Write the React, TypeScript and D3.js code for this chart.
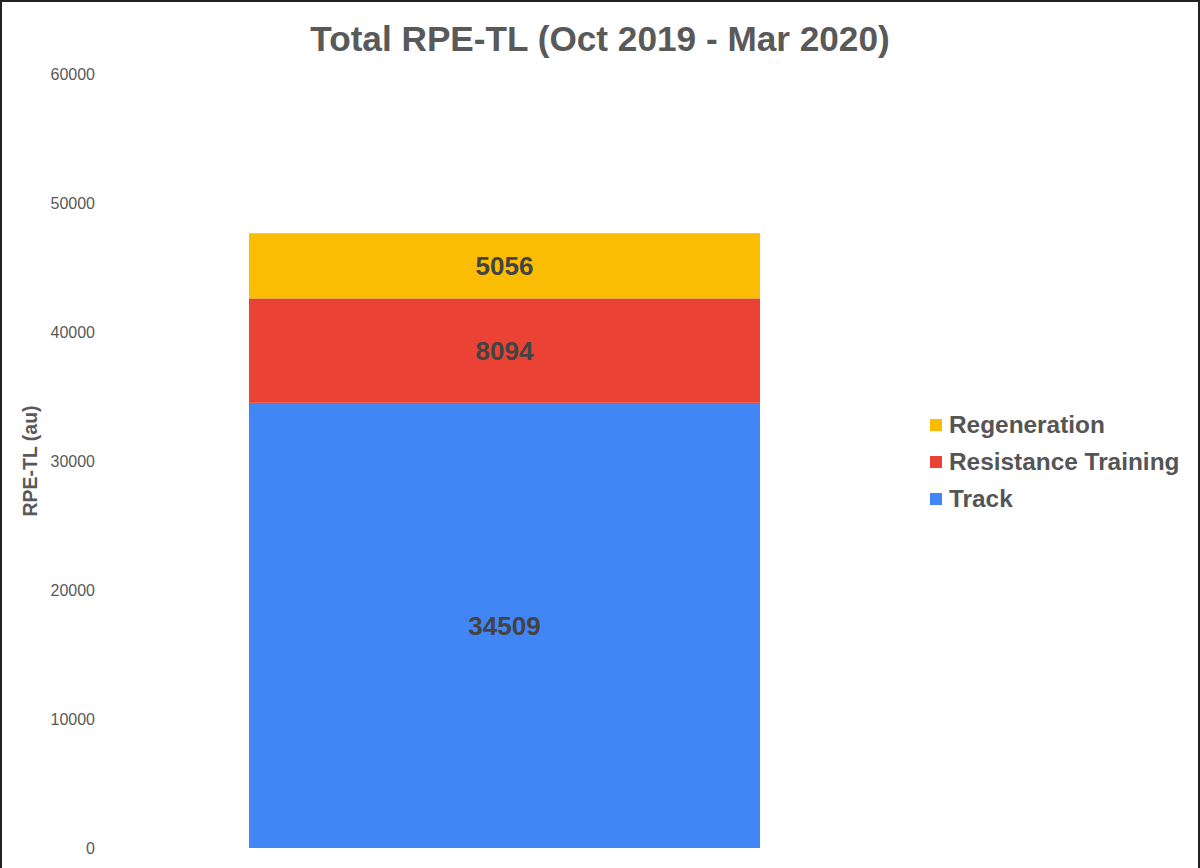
import { useEffect } from "react";
import { scaleLinear, scaleBand, stack } from "d3";

const categories = ["Total"];
const seriesNames = ["Track", "Resistance Training", "Regeneration"];
const trackValues = [34509];
const resistanceValues = [8094];
const regenerationValues = [5056];
const yTicks = [0, 10000, 20000, 30000, 40000, 50000, 60000];
const legendOrder = ["Regeneration", "Resistance Training", "Track"];

const colors: Record<string, string> = {
  Track: "#4285F4",
  "Resistance Training": "#EA4335",
  Regeneration: "#FBBC04",
};

const width = 1200;
const height = 868;
const font = "'Liberation Sans', Arial, sans-serif";

export default function App() {
  useEffect(() => {
    document.body.style.margin = "0";
  }, []);

  const rows = categories.map((c, i) => ({
    category: c,
    Track: trackValues[i],
    "Resistance Training": resistanceValues[i],
    Regeneration: regenerationValues[i],
  }));

  const stacked = stack<any>().keys(seriesNames)(rows);

  const y = scaleLinear().domain([0, 60000]).range([848, 74]);
  const x = scaleBand().domain(categories).range([109, 900]).padding(0.215);

  return (
    <svg width={width} height={height} style={{ display: "block" }}>
      <rect x={0} y={0} width={width} height={height} fill="#fff" />
      <rect
        x={1}
        y={1}
        width={width - 2}
        height={height + 4}
        fill="none"
        stroke="#222"
        strokeWidth={2}
      />
      <text
        x={600}
        y={51}
        textAnchor="middle"
        fontFamily={font}
        fontWeight="bold"
        fontSize={35.2}
        fill="#595959"
      >
        Total RPE-TL (Oct 2019 - Mar 2020)
      </text>

      {yTicks.map((t) => (
        <text
          key={t}
          x={95}
          y={y(t) + 6}
          textAnchor="end"
          fontFamily={font}
          fontSize={16}
          fill="#595959"
        >
          {t}
        </text>
      ))}

      <text
        transform={`translate(37,461) rotate(-90)`}
        textAnchor="middle"
        fontFamily={font}
        fontWeight="bold"
        fontSize={19.5}
        fill="#595959"
      >
        RPE-TL (au)
      </text>

      {stacked.map((s) =>
        s.map((d, i) => (
          <g key={s.key + i}>
            <rect
              x={x(d.data.category)}
              y={y(d[1])}
              width={x.bandwidth()}
              height={y(d[0]) - y(d[1])}
              fill={colors[s.key]}
            />
            <text
              x={(x(d.data.category) ?? 0) + x.bandwidth() / 2}
              y={(y(d[0]) + y(d[1])) / 2}
              dy="0.36em"
              textAnchor="middle"
              fontFamily={font}
              fontWeight="bold"
              fontSize={26}
              fill="#434343"
            >
              {d[1] - d[0]}
            </text>
          </g>
        ))
      )}

      {legendOrder.map((name, i) => (
        <g key={name} transform={`translate(930,${433 + i * 37})`}>
          <rect x={0} y={-14} width={12} height={12} fill={colors[name]} />
          <text
            x={19}
            y={0}
            fontFamily={font}
            fontWeight="bold"
            fontSize={24.4}
            fill="#555"
          >
            {name}
          </text>
        </g>
      ))}
    </svg>
  );
}
